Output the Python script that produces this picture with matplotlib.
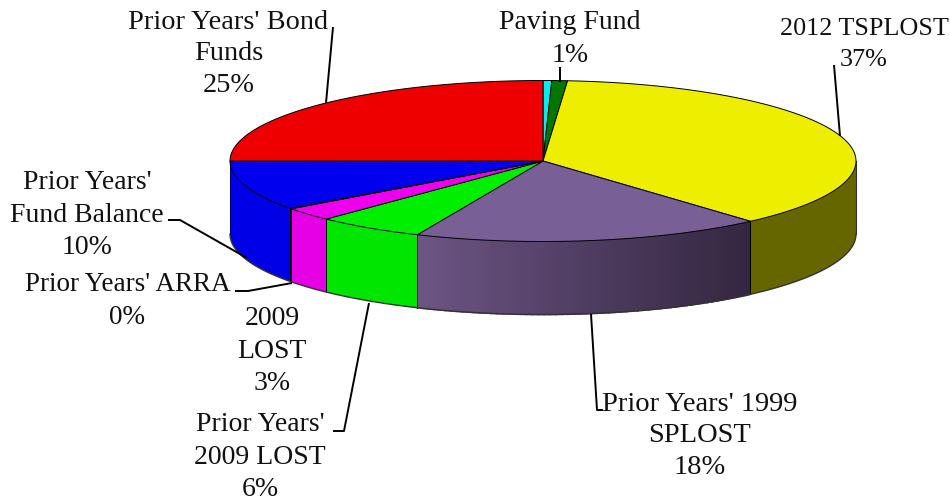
"""3D-style budget pie chart, drawn by hand since matplotlib has no extruded pie."""

import numpy as np
import matplotlib
matplotlib.use('Agg')
import matplotlib.pyplot as plt
from matplotlib.patches import Polygon

# ── data (clockwise from 12 o'clock) ─────────────────────────────────────────
names = ['', 'Paving Fund', '2012 TSPLOST', "Prior Years' 1999\nSPLOST",
         "Prior Years'\n2009 LOST", '2009\nLOST', "Prior Years' ARRA",
         "Prior Years'\nFund Balance", "Prior Years' Bond\nFunds"]
shares = [0.45, 0.8, 37.2, 18.1, 5.6, 2.7, 0.1, 10.0, 25.0]
pct_labels = ['', '1%', '37%', '18%', '6%', '3%', '0%', '10%', '25%']
top_colors = ['#00eeee', '#007800', '#eeee00', '#785f96', '#00ee00',
              '#ee00ee', '#808080', '#0000ee', '#ee0000']
side_colors = ['#00aaaa', '#005000', '#666600', None, '#00e600',
               '#e600e6', '#606060', '#0000e6', '#cc0000']

# ── layout, in pixels ────────────────────────────────────────────────────────
CX, CY = 543, 161
RX, RY = 313, 80.5
DEPTH = 73
PURPLE_LEFT = np.array([108, 84, 132]) / 255
PURPLE_RIGHT = np.array([52, 38, 64]) / 255
label_xy = [None, (570, 39), (864, 44.5), (700, 436), (260, 457),
            (272, 351), (127.5, 301), (87, 215), (228.5, 54)]
label_sizes = [None, 20, 18.8, 20.5, 20, 20, 19.5, 20, 20.4]
leaders = [
    [(333, 27), (326, 103)],
    [(560, 67), (560, 82)],
    [(834, 65), (840, 136)],
    [(591, 314), (597, 410), (603, 410)],
    [(333, 431), (344, 431), (369, 303)],
    [(235, 291), (248, 291), (292, 283)],
    [(168, 220), (180, 220), (247, 258)],
]


def rim(deg):
    """Point(s) on the top ellipse; deg runs clockwise from 12 o'clock."""
    t = np.radians(deg)
    return CX + RX * np.sin(t), CY - RY * np.cos(t)


fig = plt.figure(figsize=(9.5, 5), dpi=100)
ax = fig.add_axes([0, 0, 1, 1])
ax.set_xlim(0, 950)
ax.set_ylim(500, 0)
ax.axis('off')

fractions = np.array(shares) / sum(shares)
edges = np.concatenate([[0], np.cumsum(fractions) * 360])

# side wall: only the part facing the viewer (90..270 deg)
for i in range(len(shares)):
    a0, a1 = max(edges[i], 90), min(edges[i + 1], 270)
    if a1 <= a0:
        continue
    if side_colors[i] is None:
        # shaded slice is built from thin strips, left is lighter
        steps = np.linspace(a0, a1, 61)
        x_left, _ = rim(a1)
        x_right, _ = rim(a0)
        for s0, s1 in zip(steps[:-1], steps[1:]):
            xs, ys = rim(np.array([s0, s1]))
            mix = (xs.mean() - x_left) / (x_right - x_left)
            col = PURPLE_LEFT + (PURPLE_RIGHT - PURPLE_LEFT) * mix
            ax.add_patch(Polygon([(xs[0], ys[0]), (xs[1], ys[1]),
                                  (xs[1], ys[1] + DEPTH), (xs[0], ys[0] + DEPTH)],
                                 closed=True, fc=col, ec=col, lw=1.2, zorder=2))
    else:
        xs, ys = rim(np.linspace(a0, a1, 60))
        pts = np.r_[np.c_[xs, ys], np.c_[xs, ys + DEPTH][::-1]]
        ax.add_patch(Polygon(pts, closed=True, fc=side_colors[i], ec='none', zorder=2.5))
    # seams between the wall sections
    for a in (a0, a1):
        if 90 < a < 270:
            x, y = rim(a)
            ax.plot([x, x], [y, y + DEPTH], color='black', lw=0.7, zorder=3)

# outer outline of the wall
xs, ys = rim(np.linspace(90, 270, 200))
ax.plot(xs, ys + DEPTH, color='#333333', lw=1.0, zorder=3)
ax.plot([CX + RX] * 2, [CY, CY + DEPTH], color='#333333', lw=0.8, zorder=3)
ax.plot([CX - RX] * 2, [CY, CY + DEPTH], color='#0000a0', lw=0.6, zorder=3)

# top face
for i in range(len(shares)):
    xs, ys = rim(np.linspace(edges[i], edges[i + 1], 80))
    pts = np.r_[[(CX, CY)], np.c_[xs, ys]]
    ax.add_patch(Polygon(pts, closed=True, fc=top_colors[i], ec='black',
                         lw=0.7, joinstyle='round', zorder=4))

# leader lines and labels
for line in leaders:
    px, py = zip(*line)
    ax.plot(px, py, color='black', lw=1.4, solid_capstyle='butt', zorder=5)

for name, pct, xy, size in zip(names, pct_labels, label_xy, label_sizes):
    if xy is None:
        continue
    ax.text(xy[0], xy[1], f'{name}\n{pct}', ha='center', va='center',
            family='Liberation Serif', fontsize=size, linespacing=27.8 / size,
            color='#111111', zorder=6)

plt.savefig('out.png', dpi=100)
plt.close()
